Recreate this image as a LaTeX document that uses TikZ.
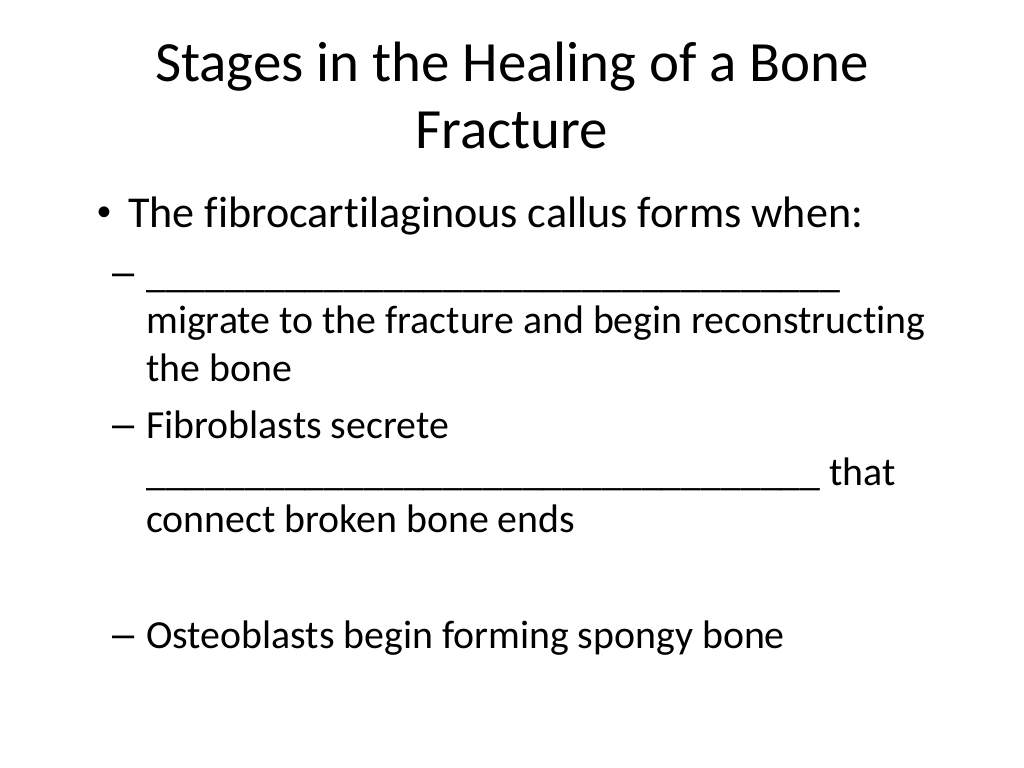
\documentclass[tikz,border=0pt]{standalone}
\usepackage{fontspec}
\setmainfont[Ligatures=NoCommon]{Carlito}
\newfontfamily\markfont{Liberation Sans}
\usepackage{tikz}
\tikzset{slidetitle/.style = {anchor=base, inner sep=0pt, font=\fontsize{40}{48}\selectfont},
         bulletline/.style = {anchor=base west, inner sep=0pt, font=\fontsize{31}{38}\selectfont},
         subline/.style = {anchor=base west, inner sep=0pt, font=\fontsize{28}{34}\selectfont},
         dotmark/.style = {anchor=base, inner sep=0pt, font=\markfont\fontsize{28}{34}\selectfont},
         dashmark/.style = {anchor=base, inner sep=0pt, font=\markfont\fontsize{28}{34}\selectfont}}
\newcommand{\blankline}[1]{\foreach \i in {1,...,#1}{\_}}

\begin{document}
\begin{tikzpicture}[x=0.703125pt, y=-0.703125pt]
    \useasboundingbox [fill=white] (0, 0) rectangle (1024, 768);

    \node [slidetitle] (title1) at (512, 82) {Stages in the Healing of a Bone};
    \node [slidetitle] (title2) at (512, 149) {Fracture};

    \node [dotmark] (dot) at (104, 226) {•};
    \node [bulletline] (callus) at (128, 228) {The fibrocartilaginous callus forms when:};

    \node [dashmark] (dash1) at (124, 286) {–};
    \node [subline] (blank1) at (146, 287) {\blankline{35}};
    \node [subline] (migrate) at (146, 334) {migrate to the fracture and begin reconstructing};
    \node [subline] (bone) at (146, 381) {the bone};

    \node [dashmark] (dash2) at (124, 437) {–};
    \node [subline] (fibro) at (146, 438) {Fibroblasts secrete};
    \node [subline] (blank2) at (146, 485) {\blankline{34} that};
    \node [subline] (ends) at (146, 532) {connect broken bone ends};

    \node [dashmark] (dash3) at (124, 647) {–};
    \node [subline] (osteo) at (146, 648) {Osteoblasts begin forming spongy bone};
  \end{tikzpicture}
\end{document}
